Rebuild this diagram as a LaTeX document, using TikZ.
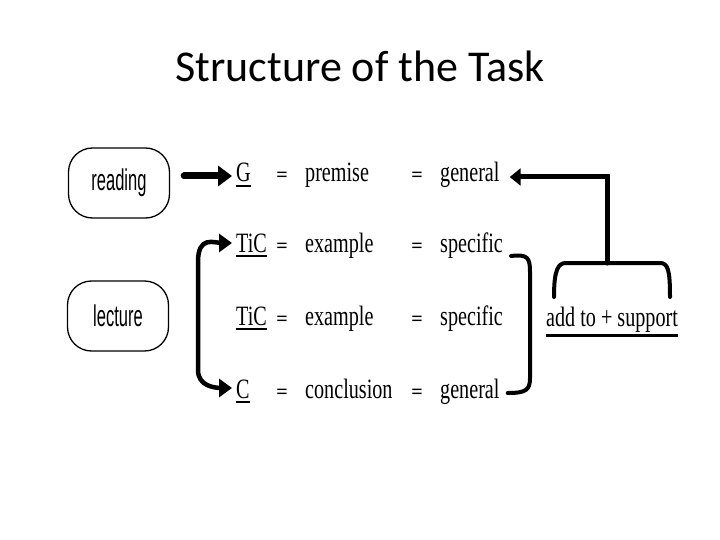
\documentclass[tikz,border=0pt]{standalone}
\usepackage{fontspec}
\setmainfont{Liberation Serif}
\newfontfamily\titlefont{Carlito}
\newfontfamily\condserif[FakeStretch=0.72]{Liberation Serif}
\newfontfamily\condsans[FakeStretch=0.55]{Liberation Sans}
\usetikzlibrary{arrows.meta, calc}
\newcommand\thickul[1]{\leavevmode\vtop{\hbox{#1}\kern2.5pt\hrule height 2.5pt}}

\begin{document}
\begin{tikzpicture}[x=1pt, y=-1pt, line cap=round,
  word/.style={anchor=base west, inner sep=0pt, font=\condserif\fontsize{28}{28}\selectfont},
  eqsign/.style={anchor=base, inner sep=0pt, font=\bfseries\fontsize{20}{20}\selectfont},
  srcbox/.style={draw, line width=1.3pt, rounded corners=24pt, minimum width=101pt, minimum height=70pt, font=\condsans\fontsize{30}{30}\selectfont},
  bigarrow/.style={line width=7pt, -{Triangle[length=14pt, width=20pt]}},
  smallarrow/.style={line width=4.5pt, {Triangle[length=13pt, width=18pt]}-{Triangle[length=13pt, width=18pt]}},
  brace/.style={line width=4pt}]
\useasboundingbox (0,0) rectangle (720,540);
% Title
\node[anchor=base, inner sep=0pt, font=\titlefont\fontsize{44}{44}\selectfont] (title) at (360,82) {Structure of the Task};
% Source boxes
\node[srcbox] (reading) at (119,183) {reading};
\node[srcbox] (lecture) at (118,316) {lecture};
% Rows
\node[word] (g)     at (236,182) {\thickul{G}};
\node[eqsign] (eqa) at (282,182) {=};
\node[word] (prem)  at (305,182) {premise};
\node[eqsign] (eqb) at (417,182) {=};
\node[word] (gena)  at (440,182) {general};
\node[word] (tica)  at (236,252) {\thickul{TiC}};
\node[eqsign] (eqc) at (282,252) {=};
\node[word] (exa)   at (305,252) {example};
\node[eqsign] (eqd) at (417,252) {=};
\node[word] (spa)   at (440,252) {specific};
\node[word] (ticb)  at (236,325) {\thickul{TiC}};
\node[eqsign] (eqe) at (282,325) {=};
\node[word] (exb)   at (305,325) {example};
\node[eqsign] (eqf) at (417,325) {=};
\node[word] (spb)   at (440,325) {specific};
\node[word] (conc)  at (236,398) {\thickul{C}};
\node[eqsign] (eqg) at (282,398) {=};
\node[word] (concl) at (305,398) {conclusion};
\node[eqsign] (eqh) at (417,398) {=};
\node[word] (genb)  at (440,398) {general};
\node[word] (supp)  at (546,326) {\thickul{add to + support}};
% Reading -> G
\draw[bigarrow] ([xshift=14pt]reading.east |- 0,176) -- ([xshift=-4pt]g.west |- 0,176);
% Left bracket arrows
\coordinate (La) at ([xshift=-4pt]tica.west |- 0,243);
\coordinate (Lb) at ([xshift=-4pt]conc.west |- 0,388);
\draw[smallarrow] (La) -- ++(-10,0) .. controls ++(-8,0) and (198,235) .. (198,262)
  -- (198,370) .. controls (198,386) and ($(Lb)+(-18,0)$) .. ($(Lb)+(-10,0)$) -- (Lb);
% Right bracket
\coordinate (Ra) at ([xshift=8pt]spa.east);
\coordinate (Rb) at ([xshift=8pt]genb.east);
\draw[brace] (Ra |- 0,256) .. controls (528,254) and (530,258) .. (530,272) -- (530,378)
  .. controls (530,390) and (526,393) .. (Rb |- 0,393);
% Support brace and arrow to general
\coordinate (Sa) at (554,297);
\coordinate (Sb) at (670,297);
\coordinate (Stop) at (607,263);
\draw[brace] (Sa) .. controls (554,270) and (558,263) .. (566,263) -- (660,263)
  .. controls (668,263) and (670,270) .. (Sb);
\draw[line width=5pt, -{Triangle[length=11pt, width=17pt]}] (Stop) -- (607,177) -- ([xshift=10pt]gena.east |- 0,177);
\end{tikzpicture}
\end{document}
